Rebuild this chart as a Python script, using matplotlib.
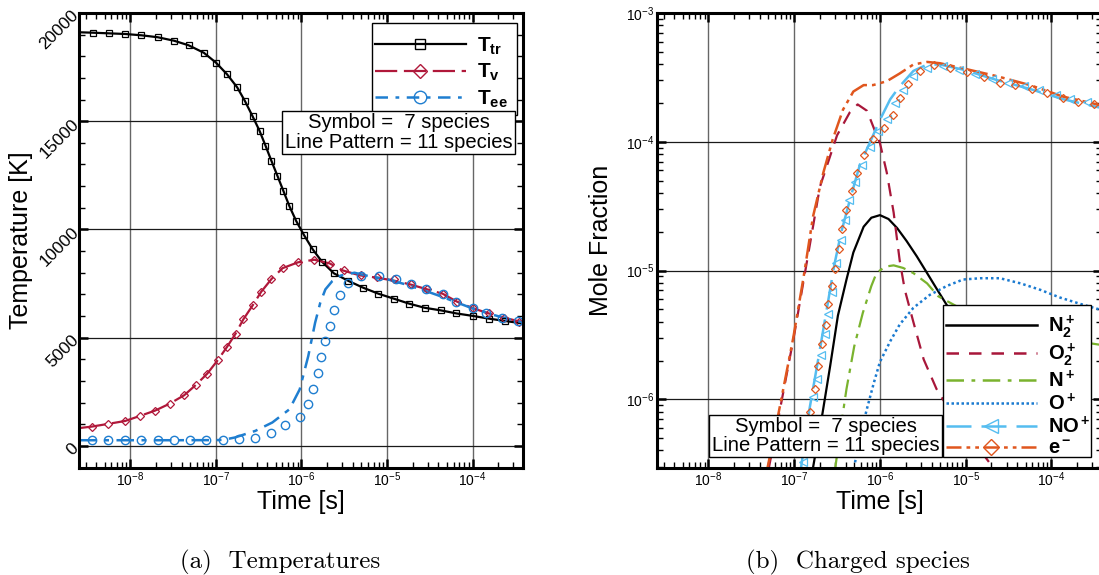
import numpy as np
import matplotlib.pyplot as plt
from matplotlib.lines import Line2D
from matplotlib.patches import Rectangle
from matplotlib.ticker import LogLocator, MultipleLocator, NullFormatter

plt.rcParams['font.family'] = ['Liberation Sans', 'DejaVu Sans']
plt.rcParams['mathtext.fontset'] = 'custom'
plt.rcParams['mathtext.rm'] = 'Liberation Sans'
plt.rcParams['mathtext.it'] = 'Liberation Sans:italic'
plt.rcParams['mathtext.bf'] = 'Liberation Sans:bold'

# ---- (a) temperatures, times stored as log10(t [s]) ----
# lines: 11 species model
lt_tr_11 = [-8.60, -8.44, -8.25, -8.06, -7.87, -7.68, -7.49, -7.32, -7.14, -7.00, -6.87,
            -6.75, -6.66, -6.57, -6.49, -6.42, -6.35, -6.28, -6.21, -6.14, -6.06, -5.97,
            -5.87, -5.76, -5.62, -5.45, -5.28, -5.10, -4.92, -4.74, -4.56, -4.37, -4.19,
            -3.99, -3.81, -3.62, -3.40]
T_tr_11 = [19110, 19090, 19060, 19030, 18970, 18880, 18720, 18510, 18160, 17710, 17170,
           16560, 15930, 15220, 14560, 13870, 13160, 12470, 11770, 11070, 10380, 9740,
           9090, 8510, 7970, 7620, 7310, 7030, 6800, 6570, 6380, 6260, 6120,
           6000, 5880, 5770, 5650]
lt_v_11 = [-8.60, -8.45, -8.26, -8.06, -7.89, -7.71, -7.54, -7.37, -7.23, -7.10, -6.98,
           -6.87, -6.77, -6.68, -6.57, -6.47, -6.35, -6.22, -6.04, -5.85, -5.67, -5.52,
           -5.32, -5.10, -4.90, -4.72, -4.53, -4.35, -4.18, -3.99, -3.81, -3.63, -3.40]
T_v_11 = [820, 890, 1015, 1150, 1380, 1630, 1950, 2340, 2830, 3340, 3950,
          4570, 5180, 5840, 6490, 7120, 7710, 8210, 8480, 8600, 8430, 8110,
          7880, 7760, 7620, 7450, 7230, 7030, 6660, 6350, 6120, 5920, 5700]
lt_ee_11 = [-8.60, -7.50, -7.00, -6.91, -6.78, -6.54, -6.34, -6.14, -6.02, -5.98, -5.92,
            -5.88, -5.84, -5.78, -5.72, -5.64, -5.54, -5.38, -5.20, -5.00, -4.80, -4.60,
            -4.40, -4.20, -4.00, -3.80, -3.60, -3.40]
T_ee_11 = [260, 260, 265, 280, 385, 690, 1080, 1690, 2610, 3230, 4150,
           4920, 5690, 6610, 7230, 7610, 7870, 8000, 7830, 7700, 7480, 7230,
           6950, 6650, 6350, 6100, 5880, 5700]

# symbols: 7 species model
lt_tr_7 = lt_tr_11[1:-1]
T_tr_7 = T_tr_11[1:-1]
lt_v_7 = [-8.45, -8.26, -8.06, -7.89, -7.71, -7.54, -7.37, -7.23, -7.10, -6.98, -6.87,
          -6.77, -6.68, -6.57, -6.47, -6.35, -6.22, -6.04, -5.85, -5.67, -5.50, -5.30,
          -5.12, -4.92, -4.72, -4.53, -4.35, -4.18, -3.99, -3.81, -3.63, -3.46]
T_v_7 = [890, 1015, 1150, 1380, 1630, 1950, 2340, 2830, 3340, 3950, 4570,
         5180, 5840, 6490, 7120, 7710, 8210, 8480, 8600, 8420, 8110, 7900,
         7790, 7690, 7490, 7230, 7030, 6640, 6350, 6120, 5920, 5740]
lt_ee_7 = [-8.45, -8.26, -8.06, -7.87, -7.68, -7.49, -7.30, -7.11, -6.92, -6.73, -6.54,
           -6.36, -6.19, -6.02, -5.92, -5.86, -5.81, -5.77, -5.72, -5.67, -5.62, -5.55,
           -5.46, -5.30, -5.09, -4.89, -4.72, -4.54, -4.35, -4.19, -4.00, -3.84, -3.65,
           -3.47]
T_ee_7 = [260, 260, 260, 260, 260, 260, 260, 260, 275, 310, 385,
          600, 950, 1350, 1950, 2650, 3380, 4100, 4830, 5550, 6260, 6980,
          7540, 7840, 7840, 7690, 7490, 7260, 7000, 6660, 6350, 6150, 5920,
          5770]

# ---- (b) charged species, log10(t [s]) and log10(mole fraction) ----
lt_n2p = [-6.78, -6.67, -6.58, -6.49, -6.39, -6.31, -6.19, -6.10, -6.00, -5.90, -5.80,
          -5.69, -5.57, -5.45, -5.34, -5.20, -5.00]
lx_n2p = [-6.53, -6.11, -5.74, -5.35, -5.07, -4.86, -4.66, -4.59, -4.57, -4.60, -4.67,
          -4.77, -4.89, -5.02, -5.14, -5.29, -5.50]
lt_o2p = [-7.30, -7.00, -6.70, -6.50, -6.35, -6.26, -6.15, -6.05, -6.00, -5.92, -5.84,
          -5.77, -5.71, -5.61, -5.49, -5.34, -5.22, -4.98, -4.77, -4.67]
lx_o2p = [-6.55, -5.50, -4.35, -3.95, -3.77, -3.71, -3.76, -3.93, -4.01, -4.24, -4.55,
          -4.92, -5.15, -5.40, -5.69, -5.92, -6.05, -6.27, -6.45, -6.54]
lt_np = [-6.52, -6.47, -6.39, -6.30, -6.20, -6.10, -6.04, -5.94, -5.84, -5.73, -5.61,
         -5.45, -5.32, -5.10, -4.80, -4.40, -4.00, -3.70, -3.40]
lx_np = [-6.53, -6.28, -5.92, -5.59, -5.33, -5.12, -5.02, -4.97, -4.96, -4.98, -5.02,
         -5.10, -5.20, -5.28, -5.37, -5.45, -5.51, -5.55, -5.58]
lt_op = [-6.29, -6.23, -6.15, -6.07, -6.00, -5.88, -5.77, -5.61, -5.42, -5.22, -5.03,
         -4.83, -4.60, -4.36, -4.13, -3.90, -3.66, -3.40]
lx_op = [-6.49, -6.28, -6.07, -5.87, -5.71, -5.55, -5.42, -5.29, -5.19, -5.12, -5.07,
         -5.06, -5.06, -5.10, -5.15, -5.21, -5.26, -5.31]
lt_nop = [-6.92, -6.82, -6.72, -6.62, -6.53, -6.45, -6.35, -6.23, -6.12, -6.00, -5.88,
          -5.77, -5.61, -5.45, -5.30, -5.03, -4.64, -4.25, -3.86, -3.40]
lx_nop = [-6.53, -6.07, -5.69, -5.30, -4.95, -4.70, -4.45, -4.17, -4.01, -3.83, -3.67,
          -3.57, -3.45, -3.40, -3.40, -3.44, -3.52, -3.59, -3.67, -3.74]
lt_el = [-7.31, -7.18, -7.01, -6.89, -6.78, -6.66, -6.55, -6.43, -6.31, -6.19, -6.08,
         -5.92, -5.77, -5.61, -5.45, -5.30, -5.03, -4.64, -4.25, -3.86, -3.40]
lx_el = [-6.53, -6.10, -5.52, -5.05, -4.58, -4.24, -3.98, -3.75, -3.61, -3.56, -3.56,
         -3.53, -3.47, -3.40, -3.38, -3.39, -3.43, -3.49, -3.56, -3.65, -3.72]

# 7 species symbols (NO+ and e- only)
lt_nop_7 = [-6.90, -6.82, -6.78, -6.73, -6.69, -6.64, -6.60, -6.56, -6.51, -6.45, -6.41,
            -6.36, -6.29, -6.21, -6.12, -6.02, -5.92, -5.82, -5.73, -5.61, -5.45, -5.26,
            -5.08, -4.89, -4.69, -4.51, -4.32, -4.14, -3.95, -3.78, -3.59]
lx_nop_7 = [-6.49, -6.20, -5.98, -5.84, -5.66, -5.49, -5.34, -5.17, -4.94, -4.76, -4.61,
            -4.45, -4.31, -4.18, -4.04, -3.92, -3.82, -3.70, -3.60, -3.49, -3.43, -3.41,
            -3.44, -3.47, -3.51, -3.54, -3.57, -3.60, -3.64, -3.67, -3.69]
lt_el_7 = [-6.82, -6.76, -6.72, -6.67, -6.63, -6.60, -6.56, -6.52, -6.48, -6.44, -6.39,
           -6.33, -6.27, -6.19, -6.08, -5.95, -5.85, -5.77, -5.67, -5.53, -5.37, -5.18,
           -4.99, -4.79, -4.60, -4.42, -4.23, -4.05, -3.87, -3.69, -3.50]
lx_el_7 = [-6.10, -5.92, -5.74, -5.57, -5.42, -5.26, -5.12, -4.99, -4.83, -4.68, -4.53,
           -4.38, -4.24, -4.10, -3.98, -3.89, -3.79, -3.66, -3.55, -3.45, -3.40, -3.43,
           -3.46, -3.50, -3.54, -3.56, -3.59, -3.62, -3.66, -3.69, -3.71]

c_tr, c_v, c_ee = 'black', '#b0183a', '#1f7ed0'
c_n2p, c_o2p, c_np, c_op, c_nop, c_el = 'black', '#a8173a', '#7ab32e', '#1a7ad0', '#55bdf0', '#e0561e'

W, H = 1099, 575
XLIM = (10 ** -8.60, 10 ** -3.41)
NOTE = 'Symbol =  7 species\nLine Pattern = 11 species'


def p10(v):
    return np.power(10.0, np.asarray(v, dtype=float))


def fx(x):
    return x / W


def fy(y):
    return 1 - y / H


def frame(ax):
    ax.set_xscale('log')
    ax.set_xlim(*XLIM)
    ax.xaxis.set_major_locator(LogLocator(base=10, numticks=20))
    ax.xaxis.set_minor_locator(LogLocator(base=10, subs=np.arange(2, 10), numticks=20))
    ax.xaxis.set_minor_formatter(NullFormatter())
    for s in ax.spines.values():
        s.set_linewidth(2.2)
    ax.tick_params(which='both', direction='in', top=True, right=True, labelsize=10)
    ax.tick_params(which='major', length=6.5, width=1.8)
    ax.tick_params(which='minor', length=4, width=1.0)
    ax.tick_params(axis='x', pad=2)
    ax.xaxis.grid(True, which='major', color='0.4', lw=1.0)
    ax.yaxis.grid(True, which='major', color='0.1', lw=0.9)
    ax.set_axisbelow(True)


def legend_box(ax, x0, y0, x1, y1):
    ax.add_patch(Rectangle((fx(x0), fy(y1)), fx(x1) - fx(x0), fy(y0) - fy(y1),
                           transform=ax.figure.transFigure, fc='white', ec='black',
                           lw=1.0, zorder=4.5, clip_on=False))


fig = plt.figure(figsize=(W / 100, H / 100), dpi=100)
ax1 = fig.add_axes([fx(79), fy(467.5), fx(523) - fx(79), fy(13) - fy(467.5)])
ax2 = fig.add_axes([fx(657), fy(467.5), fx(1102) - fx(657), fy(13) - fy(467.5)])

# (a) temperatures
frame(ax1)
ax1.set_ylim(-1000, 20000)
ax1.set_yticks([0, 5000, 10000, 15000, 20000])
ax1.yaxis.set_minor_locator(MultipleLocator(1000))
ax1.tick_params(axis='y', pad=2, labelsize=12.5)
plt.setp(ax1.get_yticklabels(), rotation=45, ha='right', va='center', rotation_mode='anchor')

ax1.plot(p10(lt_tr_11), T_tr_11, color=c_tr, lw=1.6)
ax1.plot(p10(lt_v_11), T_v_11, color=c_v, lw=1.6, dashes=(12, 3))
ax1.plot(p10(lt_ee_11), T_ee_11, color=c_ee, lw=1.8, dashes=(7, 3, 2, 3))
ax1.plot(p10(lt_tr_7), T_tr_7, ls='none', marker='s', ms=4.2, mfc='none', mec=c_tr, mew=0.9)
ax1.plot(p10(lt_v_7), T_v_7, ls='none', marker='D', ms=4.5, mfc='none', mec=c_v, mew=0.9)
ax1.plot(p10(lt_ee_7), T_ee_7, ls='none', marker='o', ms=6, mfc='none', mec=c_ee, mew=1.0)

h1 = [Line2D([], [], color=c_tr, lw=1.6, marker='s', ms=7, mfc='none', mec=c_tr),
      Line2D([], [], color=c_v, lw=1.6, dashes=(10, 3), marker='D', ms=7, mfc='none', mec=c_v),
      Line2D([], [], color=c_ee, lw=1.8, dashes=(5, 3, 1.5, 3), marker='o', ms=9, mfc='none', mec=c_ee)]
legend_box(ax1, 372, 23, 517, 115)
ax1.legend(h1, [r'$\mathbf{T_{tr}}$', r'$\mathbf{T_{v}}$', r'$\mathbf{T_{ee}}$'],
           loc='center left', bbox_to_anchor=(fx(375), fy(72.5)),
           bbox_transform=fig.transFigure, numpoints=1, prop={'size': 15},
           handlelength=4.35, handletextpad=0.55, labelspacing=0.25,
           borderpad=0, borderaxespad=0, frameon=False)
fig.text(fx(398.5), fy(132.5), NOTE, ha='center', va='center', fontsize=14.6,
         linespacing=1.0, zorder=10,
         bbox=dict(boxstyle='square,pad=0.12', fc='white', ec='black', lw=1.0))
ax1.set_xlabel('Time [s]', fontsize=18)
ax1.xaxis.set_label_coords(0.5, -0.05)
ax1.set_ylabel('Temperature [K]', fontsize=18)
ax1.yaxis.set_label_coords(-0.104, 0.5)

# (b) charged species
frame(ax2)
ax2.set_yscale('log')
ax2.set_ylim(10 ** -6.53, 1e-3)
ax2.yaxis.set_major_locator(LogLocator(base=10, numticks=20))
ax2.yaxis.set_minor_locator(LogLocator(base=10, subs=np.arange(2, 10), numticks=20))
ax2.yaxis.set_minor_formatter(NullFormatter())
ax2.tick_params(axis='y', pad=2)

ax2.plot(p10(lt_n2p), p10(lx_n2p), color=c_n2p, lw=1.6)
ax2.plot(p10(lt_o2p), p10(lx_o2p), color=c_o2p, lw=1.6, dashes=(6, 4))
ax2.plot(p10(lt_np), p10(lx_np), color=c_np, lw=1.6, dashes=(8, 3, 2, 3))
ax2.plot(p10(lt_op), p10(lx_op), color=c_op, lw=1.8, dashes=(1, 1.2))
ax2.plot(p10(lt_nop), p10(lx_nop), color=c_nop, lw=1.8, dashes=(12, 4))
ax2.plot(p10(lt_el), p10(lx_el), color=c_el, lw=1.8, dashes=(8, 2, 1.5, 2, 1.5, 2))
ax2.plot(p10(lt_nop_7), p10(lx_nop_7), ls='none', marker='<', ms=5.5, mfc='none', mec=c_nop, mew=0.9)
ax2.plot(p10(lt_el_7), p10(lx_el_7), ls='none', marker='D', ms=4.5, mfc='none', mec=c_el, mew=0.9)

h2 = [Line2D([], [], color=c_n2p, lw=1.8),
      Line2D([], [], color=c_o2p, lw=1.8, dashes=(5, 4)),
      Line2D([], [], color=c_np, lw=1.8, dashes=(7, 3, 1.5, 3)),
      Line2D([], [], color=c_op, lw=1.8, dashes=(1, 1)),
      Line2D([], [], color=c_nop, lw=1.8, dashes=(10, 4), marker='<', ms=10, mfc='none', mec=c_nop),
      Line2D([], [], color=c_el, lw=1.8, dashes=(6, 2, 1.5, 2, 1.5, 2), marker='D', ms=8, mfc='none', mec=c_el)]
legend_box(ax2, 943, 305, 1091, 457)
ax2.legend(h2, [r'$\mathbf{N_2^+}$', r'$\mathbf{O_2^+}$', r'$\mathbf{N^+}$',
                r'$\mathbf{O^+}$', r'$\mathbf{NO^+}$', r'$\mathbf{e^-}$'],
           loc='center left', bbox_to_anchor=(fx(946), fy(385.5)),
           bbox_transform=fig.transFigure, numpoints=1, prop={'size': 14.5},
           handlelength=4.5, handletextpad=0.55, labelspacing=0.08,
           borderpad=0, borderaxespad=0, frameon=False)
fig.text(fx(825.5), fy(436), NOTE, ha='center', va='center', fontsize=14.6,
         linespacing=1.0, zorder=10,
         bbox=dict(boxstyle='square,pad=0.12', fc='white', ec='black', lw=1.0))
ax2.set_xlabel('Time [s]', fontsize=18)
ax2.xaxis.set_label_coords(0.5, -0.05)
ax2.set_ylabel('Mole Fraction', fontsize=18)
ax2.yaxis.set_label_coords(-0.099, 0.5)

fig.text(fx(280), fy(562), '(a)  Temperatures', family=['cmr10', 'DejaVu Serif'],
         fontsize=18, ha='center', va='center')
fig.text(fx(858), fy(562), '(b)  Charged species', family=['cmr10', 'DejaVu Serif'],
         fontsize=18, ha='center', va='center')

fig.savefig('out.png', dpi=100)
